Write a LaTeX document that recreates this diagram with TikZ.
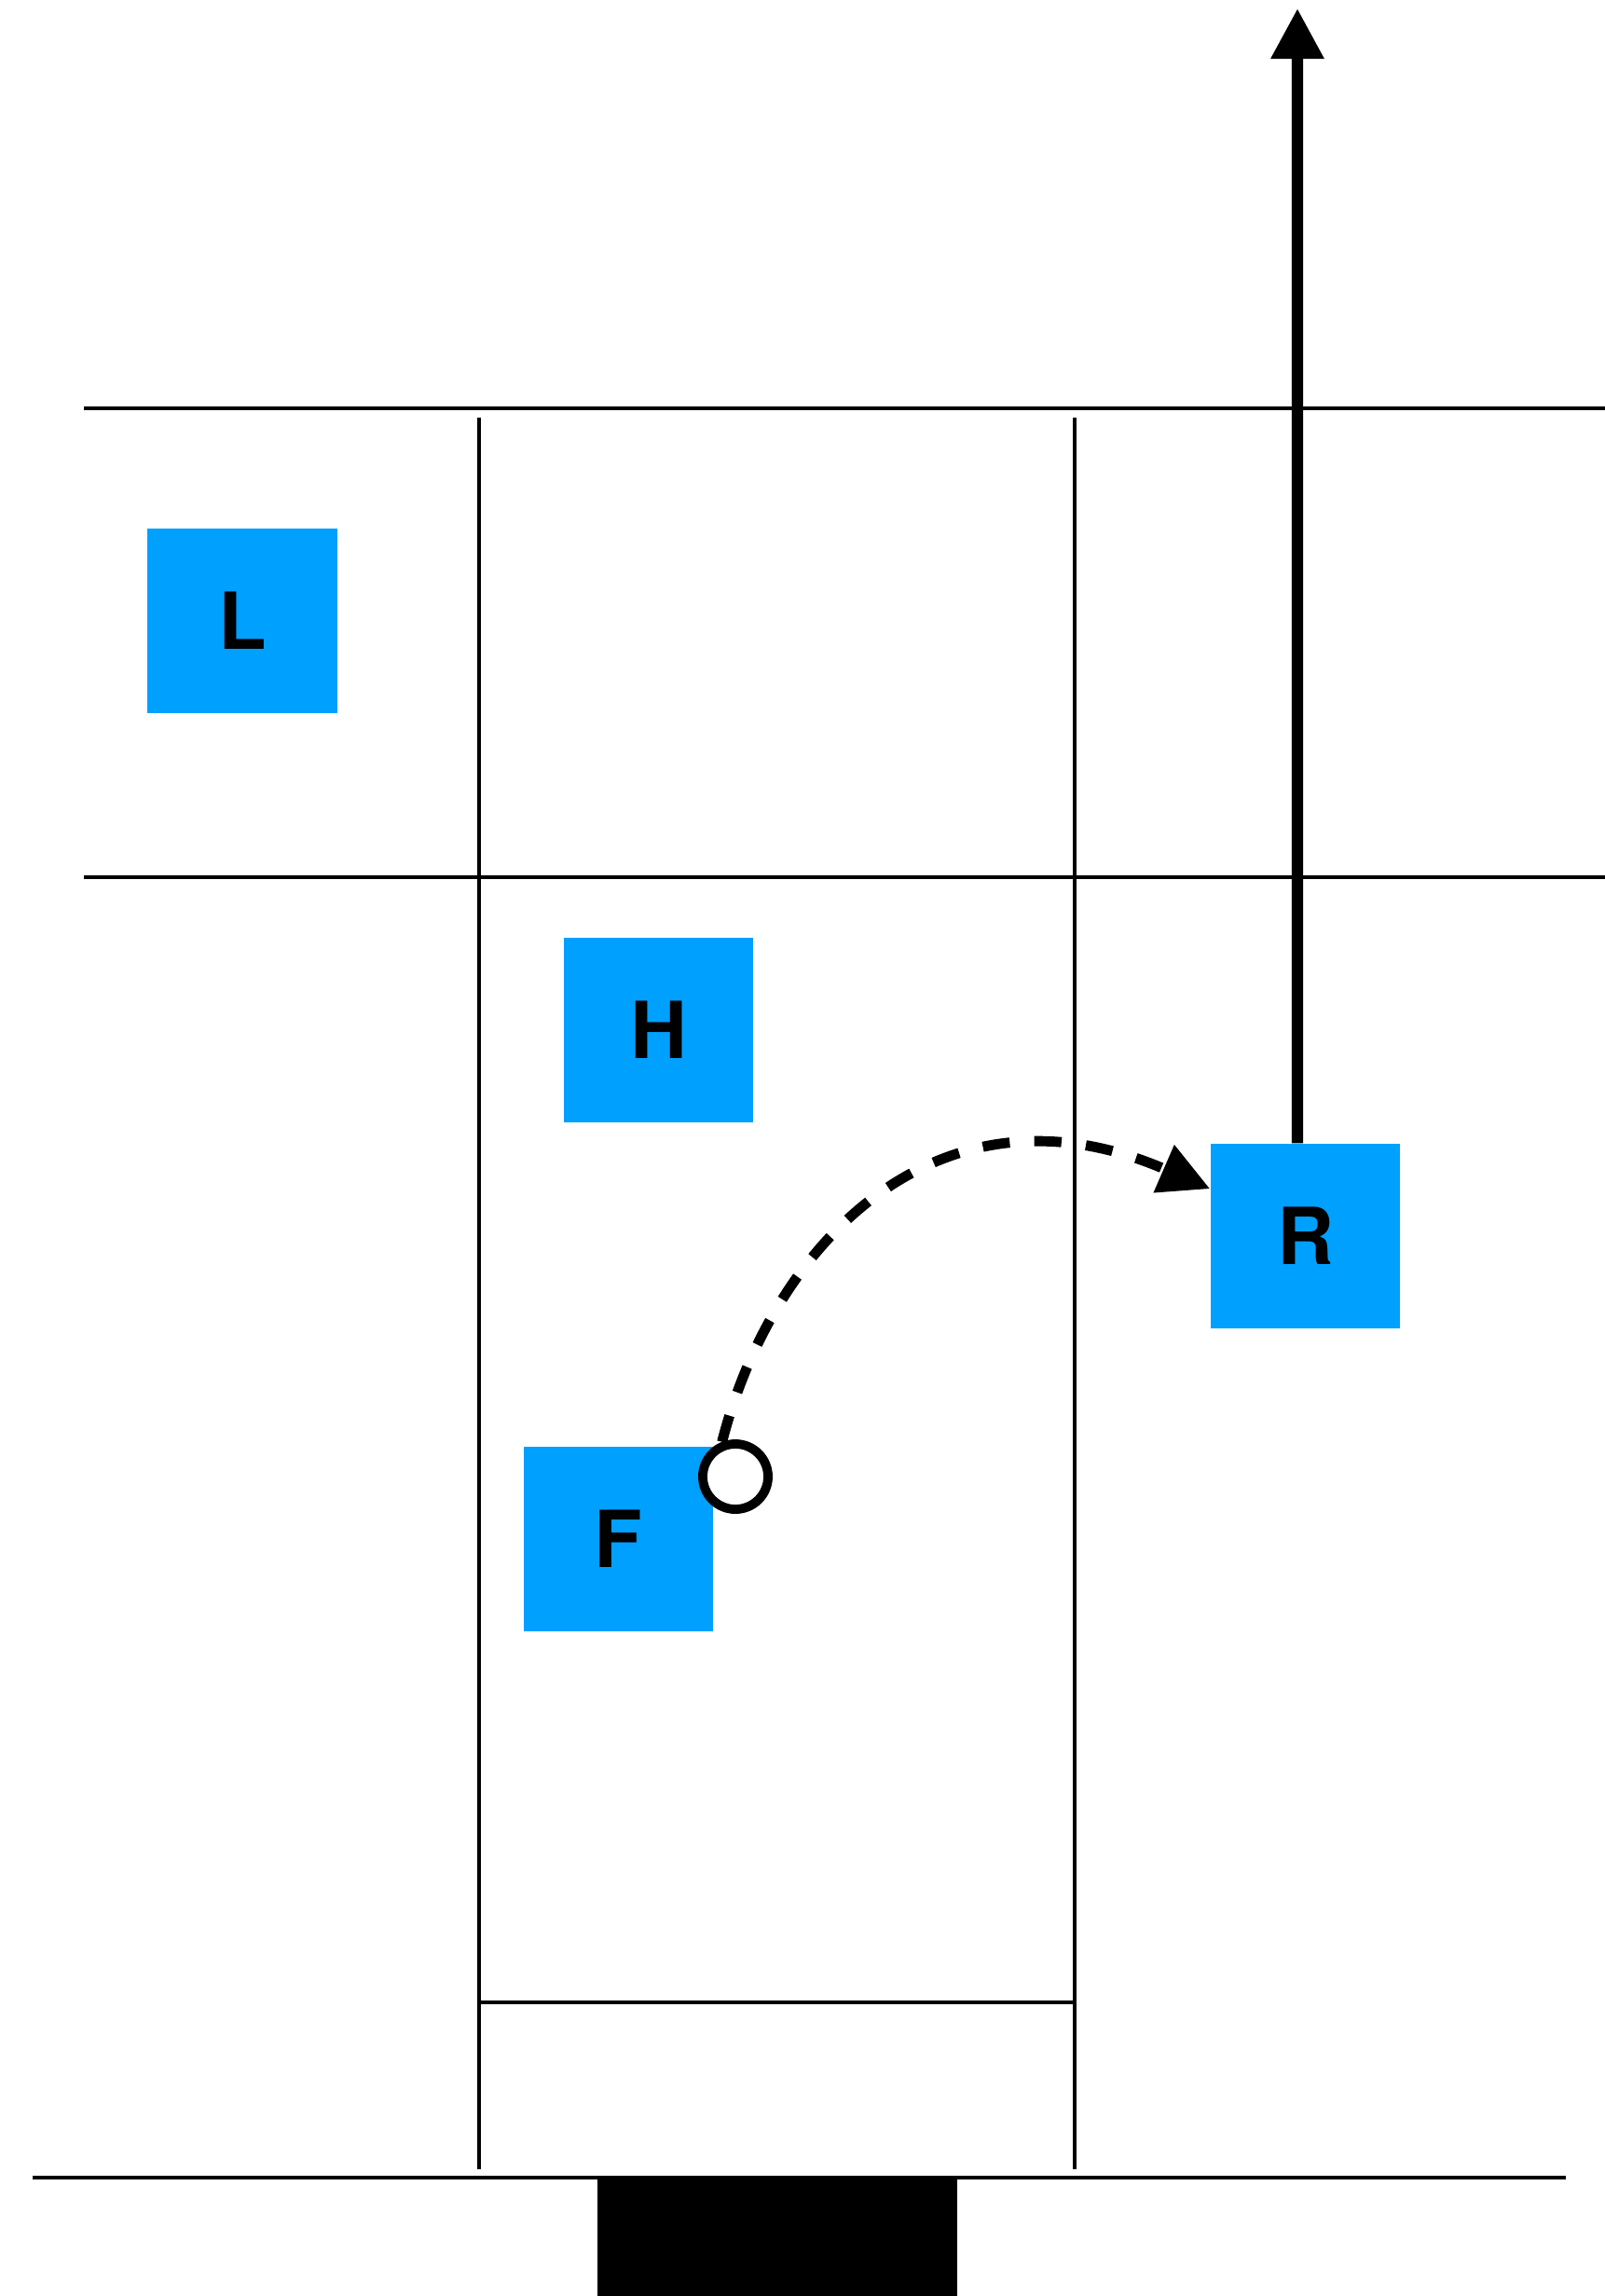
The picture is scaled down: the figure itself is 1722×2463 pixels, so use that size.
\documentclass[tikz,border=0pt]{standalone}
\usepackage{fontspec}
\setmainfont{TeX Gyre Heros}
\usepackage{xcolor}
\usepackage{tikz}
\usetikzlibrary{arrows.meta, positioning}
\definecolor{bleu}{HTML}{00A0FF}
\tikzset{
  casebleue/.style={rectangle, fill=bleu, text=black, minimum width=2.03cm,
    minimum height=1.98cm, inner sep=0pt, font=\fontsize{24}{28}\selectfont\bfseries},
  trait/.style={line width=1.4pt, color=black},
  flechegrasse/.style={-{Triangle[length=5.4mm, width=5.4mm]}, line width=3.5pt},
  flechepointillee/.style={-{Triangle[length=5.4mm, width=5.3mm]}, line width=3.1pt,
    dash pattern=on 8.3pt off 7.5pt},
  pivot/.style={circle, draw, fill=white, line width=2.8pt, minimum size=7mm, inner sep=0pt},
}

\begin{document}
\begin{tikzpicture}[x=0.01cm, y=-0.01cm]
    \useasboundingbox (0,0) rectangle (1722,2463);
    % Lignes du plan
    \draw[trait] (90,438) -- (1722,438);
    \draw[trait] (90,941) -- (1722,941);
    \draw[trait] (514,448) -- (514,2327);
    \draw[trait] (1153,448) -- (1153,2327);
    \draw[trait] (514,2148) -- (1153,2148);
    \draw[trait] (35,2336) -- (1680,2336);
    \fill[black] (641,2338) rectangle (1027,2463);

    % Cases
    \node[casebleue] (L) at (260,666) {L};
    \node[casebleue] (H) at (706.5,1105) {H};
    \node[casebleue] (R) at (1400.5,1326) {R};
    \node[casebleue] (F) at (663.5,1651) {F};

    % Trajectoires
    \node[pivot] (piv) at (789,1584) {};
    \draw[flechepointillee] (piv.111) .. controls (830,1330) and (1010,1150) .. ([yshift=-0.49cm]R.north west);
    \coordinate (sommet) at (1392,9);
    \draw[flechegrasse] ([xshift=-0.085cm]R.north) -- (sommet);
\end{tikzpicture}
\end{document}
